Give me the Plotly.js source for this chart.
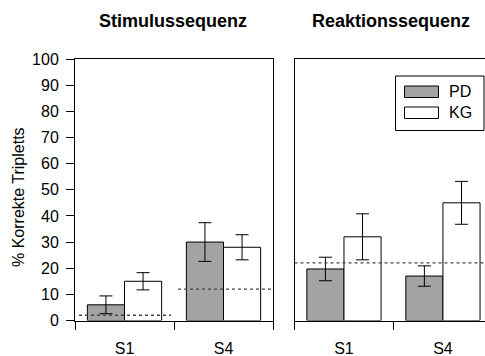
<!DOCTYPE html>
<html>
<head>
<meta charset="utf-8">
<script src="https://cdn.plot.ly/plotly-3.0.1.min.js"></script>
<style>html,body{margin:0;padding:0;background:#fff;}#chart{width:485px;height:356px;}</style>
</head>
<body>
<div id="chart"></div>
<script>
// ---- data ----
var categories = ['S1', 'S4'];
var groups = ['PD', 'KG'];
var stimPD = [6, 30];
var stimPDErr = [3.4, 7.4];
var stimKG = [15, 28];
var stimKGErr = [3.3, 4.8];
var reakPD = [19.7, 17];
var reakPDErr = [4.5, 3.9];
var reakKG = [32, 45];
var reakKGErr = [8.8, 8.2];
var stimChance = [2, 12];
var reakChance = [22, 22];
var yTicks = [0, 10, 20, 30, 40, 50, 60, 70, 80, 90, 100];
var panelTitles = ['Stimulussequenz', 'Reaktionssequenz'];
var yTitle = '% Korrekte Tripletts';

// ---- styles ----
var W = 485, H = 356;
var FONT = 'Liberation Sans, Arial, Helvetica, sans-serif';
var GRAY = '#a3a3a3';
function px(x) { return x / W; }
function py(y) { return 1 - y / H; }

function barTrace(vals, errs, name, color, xa, ya) {
  return {
    type: 'bar', x: categories, y: vals, name: name,
    xaxis: xa, yaxis: ya,
    marker: {color: color, line: {color: '#000', width: 1}},
    error_y: {type: 'data', array: errs, visible: true, color: '#000', thickness: 1, width: 6.5},
    showlegend: false, hoverinfo: 'skip'
  };
}

var data = [
  barTrace(stimPD, stimPDErr, groups[0], GRAY, 'x', 'y'),
  barTrace(stimKG, stimKGErr, groups[1], '#fff', 'x', 'y'),
  barTrace(reakPD, reakPDErr, groups[0], GRAY, 'x2', 'y2'),
  barTrace(reakKG, reakKGErr, groups[1], '#fff', 'x2', 'y2')
];

var yDomain = [py(320.5), py(59)];
var axisCommon = {
  type: 'category', tickson: 'boundaries', ticks: 'outside', ticklen: 8,
  tickcolor: '#000', tickwidth: 1, showline: true, linecolor: '#000', linewidth: 1,
  mirror: true, showgrid: false, zeroline: false, fixedrange: true,
  tickfont: {family: FONT, size: 16, color: '#000'}, ticklabelstandoff: 13
};

var shapes = [];
function dashed(xref, yref, x0, x1, y) {
  shapes.push({type: 'line', xref: xref, yref: yref, x0: x0, x1: x1, y0: y, y1: y,
    line: {color: '#444', width: 1.3, dash: '3px,3px'}});
}
dashed('x', 'y', -0.46, 0.47, stimChance[0]);
dashed('x', 'y', 0.54, 1.5, stimChance[1]);
dashed('x2', 'y2', -0.5, 1.43, reakChance[0]);

// legend (manual)
shapes.push({type: 'rect', xref: 'paper', yref: 'paper', x0: px(395.5), x1: px(484), y0: py(76), y1: py(130.5),
  line: {color: '#000', width: 1}, fillcolor: '#fff'});
shapes.push({type: 'rect', xref: 'paper', yref: 'paper', x0: px(404.5), x1: px(438.5), y0: py(86), y1: py(97.5),
  line: {color: '#000', width: 1}, fillcolor: GRAY});
shapes.push({type: 'rect', xref: 'paper', yref: 'paper', x0: px(404.5), x1: px(438.5), y0: py(107), y1: py(118.5),
  line: {color: '#000', width: 1}, fillcolor: '#fff'});

var annotations = [
  {text: '<b>' + panelTitles[0] + '</b>', xref: 'paper', yref: 'paper', x: px(172.5), y: py(21), showarrow: false,
    xanchor: 'center', yanchor: 'middle', font: {family: FONT, size: 18, color: '#000'}},
  {text: '<b>' + panelTitles[1] + '</b>', xref: 'paper', yref: 'paper', x: px(390.5), y: py(21), showarrow: false,
    xanchor: 'center', yanchor: 'middle', font: {family: FONT, size: 18, color: '#000'}},
  {text: yTitle, xref: 'paper', yref: 'paper', x: px(18), y: py(197), showarrow: false, textangle: -90,
    xanchor: 'center', yanchor: 'middle', font: {family: FONT, size: 16, color: '#000'}},
  {text: groups[0], xref: 'paper', yref: 'paper', x: px(447), y: py(91.5), showarrow: false,
    xanchor: 'left', yanchor: 'middle', font: {family: FONT, size: 16, color: '#000'}},
  {text: groups[1], xref: 'paper', yref: 'paper', x: px(447), y: py(112.5), showarrow: false,
    xanchor: 'left', yanchor: 'middle', font: {family: FONT, size: 16, color: '#000'}}
];

var layout = {
  width: W, height: H,
  margin: {l: 0, r: 0, t: 0, b: 0},
  paper_bgcolor: '#fff', plot_bgcolor: '#fff',
  barmode: 'group', bargap: 0.25, bargroupgap: 0,
  showlegend: false,
  xaxis: Object.assign({}, axisCommon, {domain: [px(75), px(273)], range: [-0.5, 1.5], anchor: 'y'}),
  xaxis2: Object.assign({}, axisCommon, {domain: [px(294.5), 1], range: [-0.5, 1.425], anchor: 'y2'}),
  yaxis: {domain: yDomain, range: [0, 100], tickmode: 'array', tickvals: yTicks, ticks: 'outside', ticklen: 8,
    tickcolor: '#000', showline: true, linecolor: '#000', linewidth: 1, mirror: true, showgrid: false,
    zeroline: false, fixedrange: true, anchor: 'x', ticklabelstandoff: 4,
    tickfont: {family: FONT, size: 16, color: '#000'}},
  yaxis2: {domain: yDomain, range: [0, 100], showticklabels: false, ticks: '', showline: true, linecolor: '#000',
    linewidth: 1, mirror: false, showgrid: false, zeroline: false, fixedrange: true, anchor: 'x2'},
  shapes: shapes,
  annotations: annotations
};

Plotly.newPlot('chart', data, layout, {displayModeBar: false, staticPlot: true});
</script>
</body>
</html>
